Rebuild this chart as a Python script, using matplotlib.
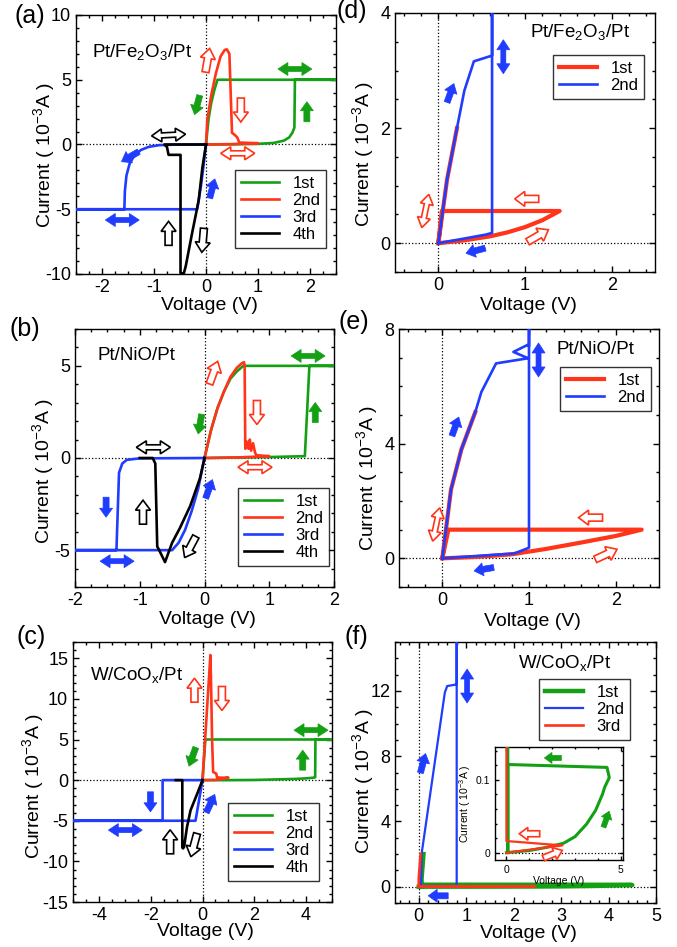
import numpy as np
import matplotlib
matplotlib.use('Agg')
import matplotlib.pyplot as plt
from matplotlib.patches import Polygon
from matplotlib import transforms
from matplotlib.ticker import MultipleLocator

plt.rcParams['font.family'] = ['Liberation Sans', 'DejaVu Sans']
plt.rcParams['mathtext.fontset'] = 'custom'
plt.rcParams['mathtext.rm'] = 'Liberation Sans'
plt.rcParams['mathtext.it'] = 'Liberation Sans'
plt.rcParams['mathtext.bf'] = 'Liberation Sans:bold'
plt.rcParams['axes.unicode_minus'] = False

GREEN = '#14a014'
RED = '#ff3418'
BLUE = '#1f3cff'
BLACK = '#000000'

# ---------------- data ----------------
# (a) Pt/Fe2O3/Pt
a_1st_v = [0, 0.5, 1.0, 1.3, 1.5, 1.6, 1.66, 1.70, 1.71, 2.5, 0.22, 0.16, 0.10, 0.05, 0]
a_1st_i = [0, 0.01, 0.05, 0.12, 0.3, 0.55, 0.9, 1.3, 5.0, 5.0, 5.0, 4.2, 3.2, 2.0, 0]
a_2nd_v = [0, 0.025, 0.1, 0.19, 0.28, 0.36, 0.40, 0.45, 0.50, 0.55, 0.60, 0.64, 1.0, 0.5, 0]
a_2nd_i = [0, 1.9, 3.8, 5.5, 6.8, 7.3, 7.35, 7.0, 0.9, 0.75, 0.55, 0.15, 0.1, 0.03, 0]
a_3rd_v = [0, -0.6, -0.9, -1.1, -1.25, -1.38, -1.47, -1.53, -1.56, -1.57, -2.5, -0.17, -0.10, -0.05, 0]
a_3rd_i = [0, -0.01, -0.05, -0.18, -0.42, -0.85, -1.5, -2.4, -3.6, -5, -5, -5, -3.3, -1.7, 0]
a_4th_v = [0, -0.07, -0.14, -0.27, -0.39, -0.43, -0.49, -0.49, -0.72, -0.75, -0.8, 0]
a_4th_i = [0, -1.8, -4.3, -6.9, -9.4, -10.0, -9.9, -0.8, -0.8, -0.2, 0, 0]

# (b) Pt/NiO/Pt
b_1st_v = [0, 1.0, 1.55, 1.62, 2.0, 0.6, 0.5, 0.4, 0.3, 0.2, 0.1, 0]
b_1st_i = [0, 0.05, 0.1, 5.0, 5.0, 5.0, 4.7, 4.3, 3.6, 2.7, 1.5, 0]
b_2nd_v = [0, 0.1, 0.2, 0.3, 0.4, 0.5, 0.58, 0.61, 0.62, 0.63, 0.65, 0.68, 0.70, 0.72, 0.75, 0.78, 0.8, 1.0, 0.5, 0]
b_2nd_i = [0, 1.5, 2.7, 3.6, 4.4, 4.9, 5.15, 5.2, 5.0, 0.5, 0.9, 0.5, 1.0, 0.4, 0.8, 0.3, 0.15, 0.1, 0.03, 0]
b_3rd_v = [0, -1.0, -1.2, -1.27, -1.32, -1.36, -2.0, -0.5, -0.4, -0.3, -0.2, -0.1, 0]
b_3rd_i = [0, -0.02, -0.1, -0.3, -0.8, -5.0, -5.0, -5.0, -4.6, -3.9, -2.9, -1.7, 0]
b_4th_v = [0, -0.07, -0.22, -0.38, -0.5, -0.61, -0.7, -0.73, -0.76, -0.8, -1.0]
b_4th_i = [0, -1.1, -2.6, -3.8, -4.6, -5.65, -5.0, -4.8, -0.3, 0, 0]

# (c) W/CoOx/Pt
c_1st_v = [0, 1.0, 2.0, 3.0, 3.6, 4.0, 4.3, 4.35, 4.36, 5.0, 0.11, 0]
c_1st_i = [0, 0.0, 0.02, 0.1, 0.15, 0.22, 0.3, 0.35, 5.0, 5.0, 5.0, 0]
c_2nd_v = [0, 0.15, 0.305, 0.33, 0.37, 0.41, 0.47, 0.53, 0.56, 0.7, 1.0, 0.5, 0]
c_2nd_i = [0, 7.5, 15.4, 12.0, 5.0, 1.0, 0.9, 0.8, 0.35, 0.3, 0.3, 0.02, 0]
c_3rd_v = [0, -1.54, -1.54, -5.0, -0.27, 0]
c_3rd_i = [0, 0, -5.0, -5.0, -5.0, 0]
c_4th_v = [0, -0.2, -0.46, -0.6, -0.71, -0.75, -0.78, -0.78, -1.03]
c_4th_i = [0, -1.64, -3.7, -5.8, -8.2, -8.4, -8.3, 0, 0]

# (d) Pt/Fe2O3/Pt, compliance-free
d_1st_v = [0, 0.3, 0.6, 0.8, 1.0, 1.2, 1.4, 0.04, 0, 0.1, 0.215]
d_1st_i = [0, 0.05, 0.12, 0.19, 0.28, 0.4, 0.56, 0.56, 0, 1.1, 2.0]
d_2nd_v = [0, 0.55, 0.62, 0.62, 0.62, 0.41, 0.3, 0.215, 0.1, 0]
d_2nd_i = [0, 0.15, 0.18, 4.5, 3.26, 3.16, 2.65, 2.0, 1.1, 0]

# (e) Pt/NiO/Pt
e_1st_v = [0, 0.4, 0.8, 1.2, 1.6, 2.0, 2.3, 0.07, 0, 0.1, 0.22, 0.38]
e_1st_i = [0, 0.05, 0.14, 0.33, 0.55, 0.78, 1.0, 1.0, 0, 2.4, 3.8, 5.1]
e_2nd_v = [0, 0.83, 1.0, 1.0, 1.0, 0.98, 0.82, 0.99, 0.62, 0.45, 0.38, 0.22, 0.1, 0]
e_2nd_i = [0, 0.17, 0.37, 8.5, 7.4, 7.44, 7.2, 6.98, 6.8, 5.8, 5.1, 3.8, 2.4, 0]

# (f) W/CoOx/Pt
f_1st_v = [0, 1.0, 1.7, 2.5, 3.0, 3.5, 3.9, 4.2, 4.3, 4.5, 4.4, 0.06, 0.06, 0.06, 0.1]
f_1st_i = [0, 0.003, 0.007, 0.013, 0.022, 0.039, 0.058, 0.08, 0.09, 0.103, 0.117, 0.121, 0.0, 0.5, 2.0]
f_2nd_v = [0.05, 0.8, 0.8, 0.8, 0.6, 0.55, 0.06, 0.05]
f_2nd_i = [0.05, 0.05, 16.0, 12.4, 12.3, 11.9, 2.0, 0.05]
f_3rd_v = [0, 2.45, 0.0, 0.0, 0.04]
f_3rd_i = [0, 0.01, 0.016, 0.5, 2.0]

labels4 = ['1st', '2nd', '3rd', '4th']

# arrows: (x, y, angle, color, hollow, double)
arrows_a = [(1.71, 5.83, 0, GREEN, False, True), (1.94, 2.53, 90, GREEN, False, False),
            (-0.17, 3.05, -105, GREEN, False, False), (0.03, 6.5, 80, RED, True, False),
            (0.67, 2.66, -90, RED, True, False), (0.61, -0.68, 0, RED, True, True),
            (-0.72, 0.73, 3, BLACK, True, True), (-1.46, -0.94, -150, BLUE, False, False),
            (0.12, -3.4, 75, BLUE, False, False), (-1.61, -5.83, 0, BLUE, False, True),
            (-0.72, -6.86, 90, BLACK, True, False), (-0.06, -7.4, -95, BLACK, True, False)]
arrows_b = [(1.60, 5.54, 0, GREEN, False, True), (1.71, 2.47, 90, GREEN, False, False),
            (-0.07, 1.84, -100, GREEN, False, False), (0.14, 4.63, 70, RED, True, False),
            (0.81, 2.47, -90, RED, True, False), (0.78, -0.5, 0, RED, True, True),
            (-0.79, 0.58, 0, BLACK, True, True), (-1.52, -2.67, -90, BLUE, False, False),
            (-0.95, -2.94, 90, BLACK, True, False), (0.07, -1.68, 70, BLUE, False, False),
            (-1.35, -5.6, 0, BLUE, False, True), (-0.22, -4.83, -118, BLACK, True, False)]
arrows_c = [(4.19, 6.15, 0, GREEN, False, True), (3.87, 2.46, 90, GREEN, False, False),
            (-0.39, 2.87, -110, GREEN, False, False), (-0.31, 11.07, 90, RED, True, False),
            (0.75, 10.05, -90, RED, True, False), (-2.01, -2.67, -90, BLUE, False, False),
            (0.31, -2.87, 65, BLUE, False, False), (-2.98, -6.15, 0, BLUE, False, True),
            (-1.25, -7.59, 90, BLACK, True, False), (-0.33, -8.0, -105, BLACK, True, False)]
arrows_d = [(0.75, 3.24, 90, BLUE, False, True), (0.14, 2.61, 70, BLUE, False, False),
            (0.43, -0.13, 195, BLUE, False, False), (-0.15, 0.56, 78, RED, True, True),
            (1.02, 0.77, 180, RED, True, False), (1.15, 0.13, 30, RED, True, False)]
arrows_e = [(1.11, 6.92, 90, BLUE, False, True), (0.15, 4.6, 70, BLUE, False, False),
            (0.48, -0.38, 190, BLUE, False, False), (-0.07, 1.18, 78, RED, True, True),
            (1.71, 1.42, 180, RED, True, False), (1.89, 0.14, 25, RED, True, False)]
arrows_f = [(1.02, 12.3, 90, BLUE, False, True), (0.09, 7.57, 75, BLUE, False, False),
            (0.41, -0.56, 180, BLUE, False, False)]
arrows_inset = [(2.03, 0.13, 180, GREEN, False, False), (4.37, 0.046, 70, GREEN, False, False),
                (1.01, 0.026, 180, RED, True, False), (2.03, -0.002, 22, RED, True, False)]

W, H = 677, 947
DPI = 100
fig = plt.figure(figsize=(W / DPI, H / DPI), dpi=DPI)


def px_axes(x0, y0, x1, y1):
    return fig.add_axes([x0 / W, 1 - y1 / H, (x1 - x0) / W, (y1 - y0) / H])


def block_arrow(ax, x, y, ang, color, hollow=False, double=False, scale=1.0):
    if double:
        L, hw, sw, hl = 34, 13, 5, 10
    elif hollow:
        L, hw, sw, hl = 24, 15, 7, 10
    else:
        L, hw, sw, hl = 20, 13, 6, 9
    L, hw, sw, hl = L * scale, hw * scale, sw * scale, hl * scale
    if double:
        pts = [(-L / 2, 0), (-L / 2 + hl, hw / 2), (-L / 2 + hl, sw / 2), (L / 2 - hl, sw / 2),
               (L / 2 - hl, hw / 2), (L / 2, 0), (L / 2 - hl, -hw / 2), (L / 2 - hl, -sw / 2),
               (-L / 2 + hl, -sw / 2), (-L / 2 + hl, -hw / 2)]
    else:
        pts = [(-L / 2, sw / 2), (L / 2 - hl, sw / 2), (L / 2 - hl, hw / 2), (L / 2, 0),
               (L / 2 - hl, -hw / 2), (L / 2 - hl, -sw / 2), (-L / 2, -sw / 2)]
    t = np.deg2rad(ang)
    c, s = np.cos(t), np.sin(t)
    pts = np.array([(p * c - q * s, p * s + q * c) for p, q in pts]) / DPI
    trans = fig.dpi_scale_trans + transforms.ScaledTranslation(x, y, ax.transData)
    poly = Polygon(pts, closed=True, transform=trans,
                   fc='white' if hollow else color, ec=color,
                   lw=1.2 if hollow else 0.5, zorder=6, clip_on=False)
    ax.add_patch(poly)


def style(ax, xlim, ylim, xmaj, xmin, ymaj, ymin, fs=13, vline=True):
    ax.set_xlim(*xlim)
    ax.set_ylim(*ylim)
    ax.xaxis.set_major_locator(MultipleLocator(xmaj))
    ax.xaxis.set_minor_locator(MultipleLocator(xmin))
    ax.yaxis.set_major_locator(MultipleLocator(ymaj))
    ax.yaxis.set_minor_locator(MultipleLocator(ymin))
    ax.tick_params(which='both', direction='in', top=True, right=True, labelsize=fs, width=1)
    ax.tick_params(which='major', length=4.5)
    ax.tick_params(which='minor', length=2.5)
    ax.axhline(0, color='k', ls=':', lw=0.9, zorder=1)
    if vline:
        ax.axvline(0, color='k', ls=':', lw=0.9, zorder=1)
    for sp in ax.spines.values():
        sp.set_linewidth(1.0)


def add_legend(ax, x, y, fs=12):
    leg = ax.legend(loc='upper left', bbox_to_anchor=(x, y), borderaxespad=0, frameon=True,
                    fancybox=False, edgecolor='k', fontsize=fs, handlelength=2.3,
                    labelspacing=0.12, handletextpad=0.8, borderpad=0.35)
    leg.get_frame().set_linewidth(1.0)
    leg.set_zorder(10)
    return leg


def labels(ax, xl_y, yl_x, yl_shift):
    bb = ax.get_position()
    xc = (bb.x0 + bb.x1) / 2 + 3 / W
    yc = (bb.y0 + bb.y1) / 2 - yl_shift / H
    fig.text(xc, 1 - xl_y / H, 'Voltage (V)', ha='center', va='center', fontsize=14)
    fig.text(yl_x / W, yc, 'Current ( 10$^{-3}$A )', ha='center', va='center',
             rotation=90, fontsize=14)


LW = 1.9
TFS = 13.5

# ---- (a) ----
ax = px_axes(76, 15, 336, 274)
style(ax, (-2.5, 2.5), (-10, 10), 1, 0.25, 5, 1)
ax.plot(a_1st_v, a_1st_i, color=GREEN, lw=LW, label=labels4[0], zorder=3)
ax.plot(a_2nd_v, a_2nd_i, color=RED, lw=LW, label=labels4[1], zorder=3)
ax.plot(a_3rd_v, a_3rd_i, color=BLUE, lw=LW, label=labels4[2], zorder=3)
ax.plot(a_4th_v, a_4th_i, color=BLACK, lw=LW, label=labels4[3], zorder=3)
for ar in arrows_a:
    block_arrow(ax, ar[0], ar[1], ar[2], ar[3], ar[4], ar[5])
add_legend(ax, 0.6115, 0.4015)
ax.text(0.0615, 0.857, 'Pt/Fe$_2$O$_3$/Pt', transform=ax.transAxes, fontsize=TFS, va='center')
labels(ax, 306, 44, 10)
fig.text(30 / W, 1 - 16 / H, '(a)', fontsize=18, ha='center', va='center')

# ---- (b) ----
ax = px_axes(75, 329, 334, 587)
style(ax, (-2, 2), (-7, 7), 1, 0.25, 5, 1)
ax.plot(b_1st_v, b_1st_i, color=GREEN, lw=LW, label=labels4[0], zorder=3)
ax.plot(b_2nd_v, b_2nd_i, color=RED, lw=LW, label=labels4[1], zorder=3)
ax.plot(b_3rd_v, b_3rd_i, color=BLUE, lw=LW, label=labels4[2], zorder=3)
ax.plot(b_4th_v, b_4th_i, color=BLACK, lw=LW, label=labels4[3], zorder=3)
for ar in arrows_b:
    block_arrow(ax, ar[0], ar[1], ar[2], ar[3], ar[4], ar[5])
add_legend(ax, 0.629, 0.3837)
ax.text(0.085, 0.899, 'Pt/NiO/Pt', transform=ax.transAxes, fontsize=TFS, va='center')
labels(ax, 620, 43, 13)
fig.text(25 / W, 1 - 329 / H, '(b)', fontsize=18, ha='center', va='center')

# ---- (c) ----
ax = px_axes(73, 642, 332, 902)
style(ax, (-5, 5), (-15, 17), 2, 0.5, 5, 1)
ax.plot(c_1st_v, c_1st_i, color=GREEN, lw=LW, label=labels4[0], zorder=3)
ax.plot(c_2nd_v, c_2nd_i, color=RED, lw=LW, label=labels4[1], zorder=3)
ax.plot(c_3rd_v, c_3rd_i, color=BLUE, lw=LW, label=labels4[2], zorder=3)
ax.plot(c_4th_v, c_4th_i, color=BLACK, lw=LW, label=labels4[3], zorder=3)
for ar in arrows_c:
    block_arrow(ax, ar[0], ar[1], ar[2], ar[3], ar[4], ar[5])
add_legend(ax, 0.598, 0.3808)
ax.text(0.0656, 0.873, 'W/CoO$_x$/Pt', transform=ax.transAxes, fontsize=TFS, va='center')
labels(ax, 931, 33, 14)
fig.text(31 / W, 1 - 637 / H, '(c)', fontsize=18, ha='center', va='center')

# ---- (d) ----
ax = px_axes(395, 13, 655, 272)
style(ax, (-0.5, 2.5), (-0.5, 4), 1, 0.2, 2, 0.5)
ax.plot(d_1st_v, d_1st_i, color=RED, lw=3.0, label=labels4[0], zorder=3)
ax.plot(d_2nd_v, d_2nd_i, color=BLUE, lw=LW, label=labels4[1], zorder=3)
for ar in arrows_d:
    block_arrow(ax, ar[0], ar[1], ar[2], ar[3], ar[4], ar[5])
add_legend(ax, 0.6077, 0.8378)
ax.text(0.519, 0.927, 'Pt/Fe$_2$O$_3$/Pt', transform=ax.transAxes, fontsize=TFS, va='center')
labels(ax, 305, 363, 11)
fig.text(352 / W, 1 - 11 / H, '(d)', fontsize=18, ha='center', va='center')

# ---- (e) ----
ax = px_axes(399, 329, 659, 587)
style(ax, (-0.5, 2.5), (-1, 8), 1, 0.2, 4, 1)
ax.plot(e_1st_v, e_1st_i, color=RED, lw=3.0, label=labels4[0], zorder=3)
ax.plot(e_2nd_v, e_2nd_i, color=BLUE, lw=LW, label=labels4[1], zorder=3)
for ar in arrows_e:
    block_arrow(ax, ar[0], ar[1], ar[2], ar[3], ar[4], ar[5])
add_legend(ax, 0.619, 0.8527)
ax.text(0.604, 0.922, 'Pt/NiO/Pt', transform=ax.transAxes, fontsize=TFS, va='center')
labels(ax, 621, 367, 20)
fig.text(354 / W, 1 - 322 / H, '(e)', fontsize=18, ha='center', va='center')

# ---- (f) ----
ax = px_axes(395, 642, 656, 903)
style(ax, (-0.5, 5), (-1, 15), 1, 0.2, 4, 1)
ax.plot(f_1st_v, f_1st_i, color=GREEN, lw=3.2, label=labels4[0], zorder=3)
ax.plot(f_2nd_v, f_2nd_i, color=BLUE, lw=1.6, label=labels4[1], zorder=3)
ax.plot(f_3rd_v, f_3rd_i, color=RED, lw=1.9, label=labels4[2], zorder=3)
for ar in arrows_f:
    block_arrow(ax, ar[0], ar[1], ar[2], ar[3], ar[4], ar[5])
add_legend(ax, 0.5517, 0.8582)
ax.text(0.471, 0.92, 'W/CoO$_x$/Pt', transform=ax.transAxes, fontsize=TFS, va='center')
labels(ax, 933, 363, 8)
fig.text(356 / W, 1 - 637 / H, '(f)', fontsize=18, ha='center', va='center')

# ---- inset of (f) ----
axi = px_axes(495, 747, 623, 860)
axi.set_facecolor('white')
axi.set_zorder(12)
style(axi, (-0.5, 5.1), (-0.01, 0.145), 5, 1, 0.1, 0.02, fs=7.5, vline=False)
axi.tick_params(which='major', length=3)
axi.tick_params(which='minor', length=1.5)
axi.plot(f_1st_v, f_1st_i, color=GREEN, lw=2.2, zorder=3)
axi.plot(f_3rd_v, f_3rd_i, color=RED, lw=1.6, zorder=3)
for ar in arrows_inset:
    block_arrow(axi, ar[0], ar[1], ar[2], ar[3], ar[4], ar[5], scale=0.85)
axi.set_xticks([0, 5])
axi.set_yticks([0, 0.1])
axi.set_yticklabels(['0', '0.1'])
axi.set_xlabel('Voltage (V)', fontsize=7.5, labelpad=0.5)
axi.set_ylabel('Current ( 10$^{-3}$A )', fontsize=7.5, labelpad=2)

fig.savefig('out.png', dpi=DPI)
